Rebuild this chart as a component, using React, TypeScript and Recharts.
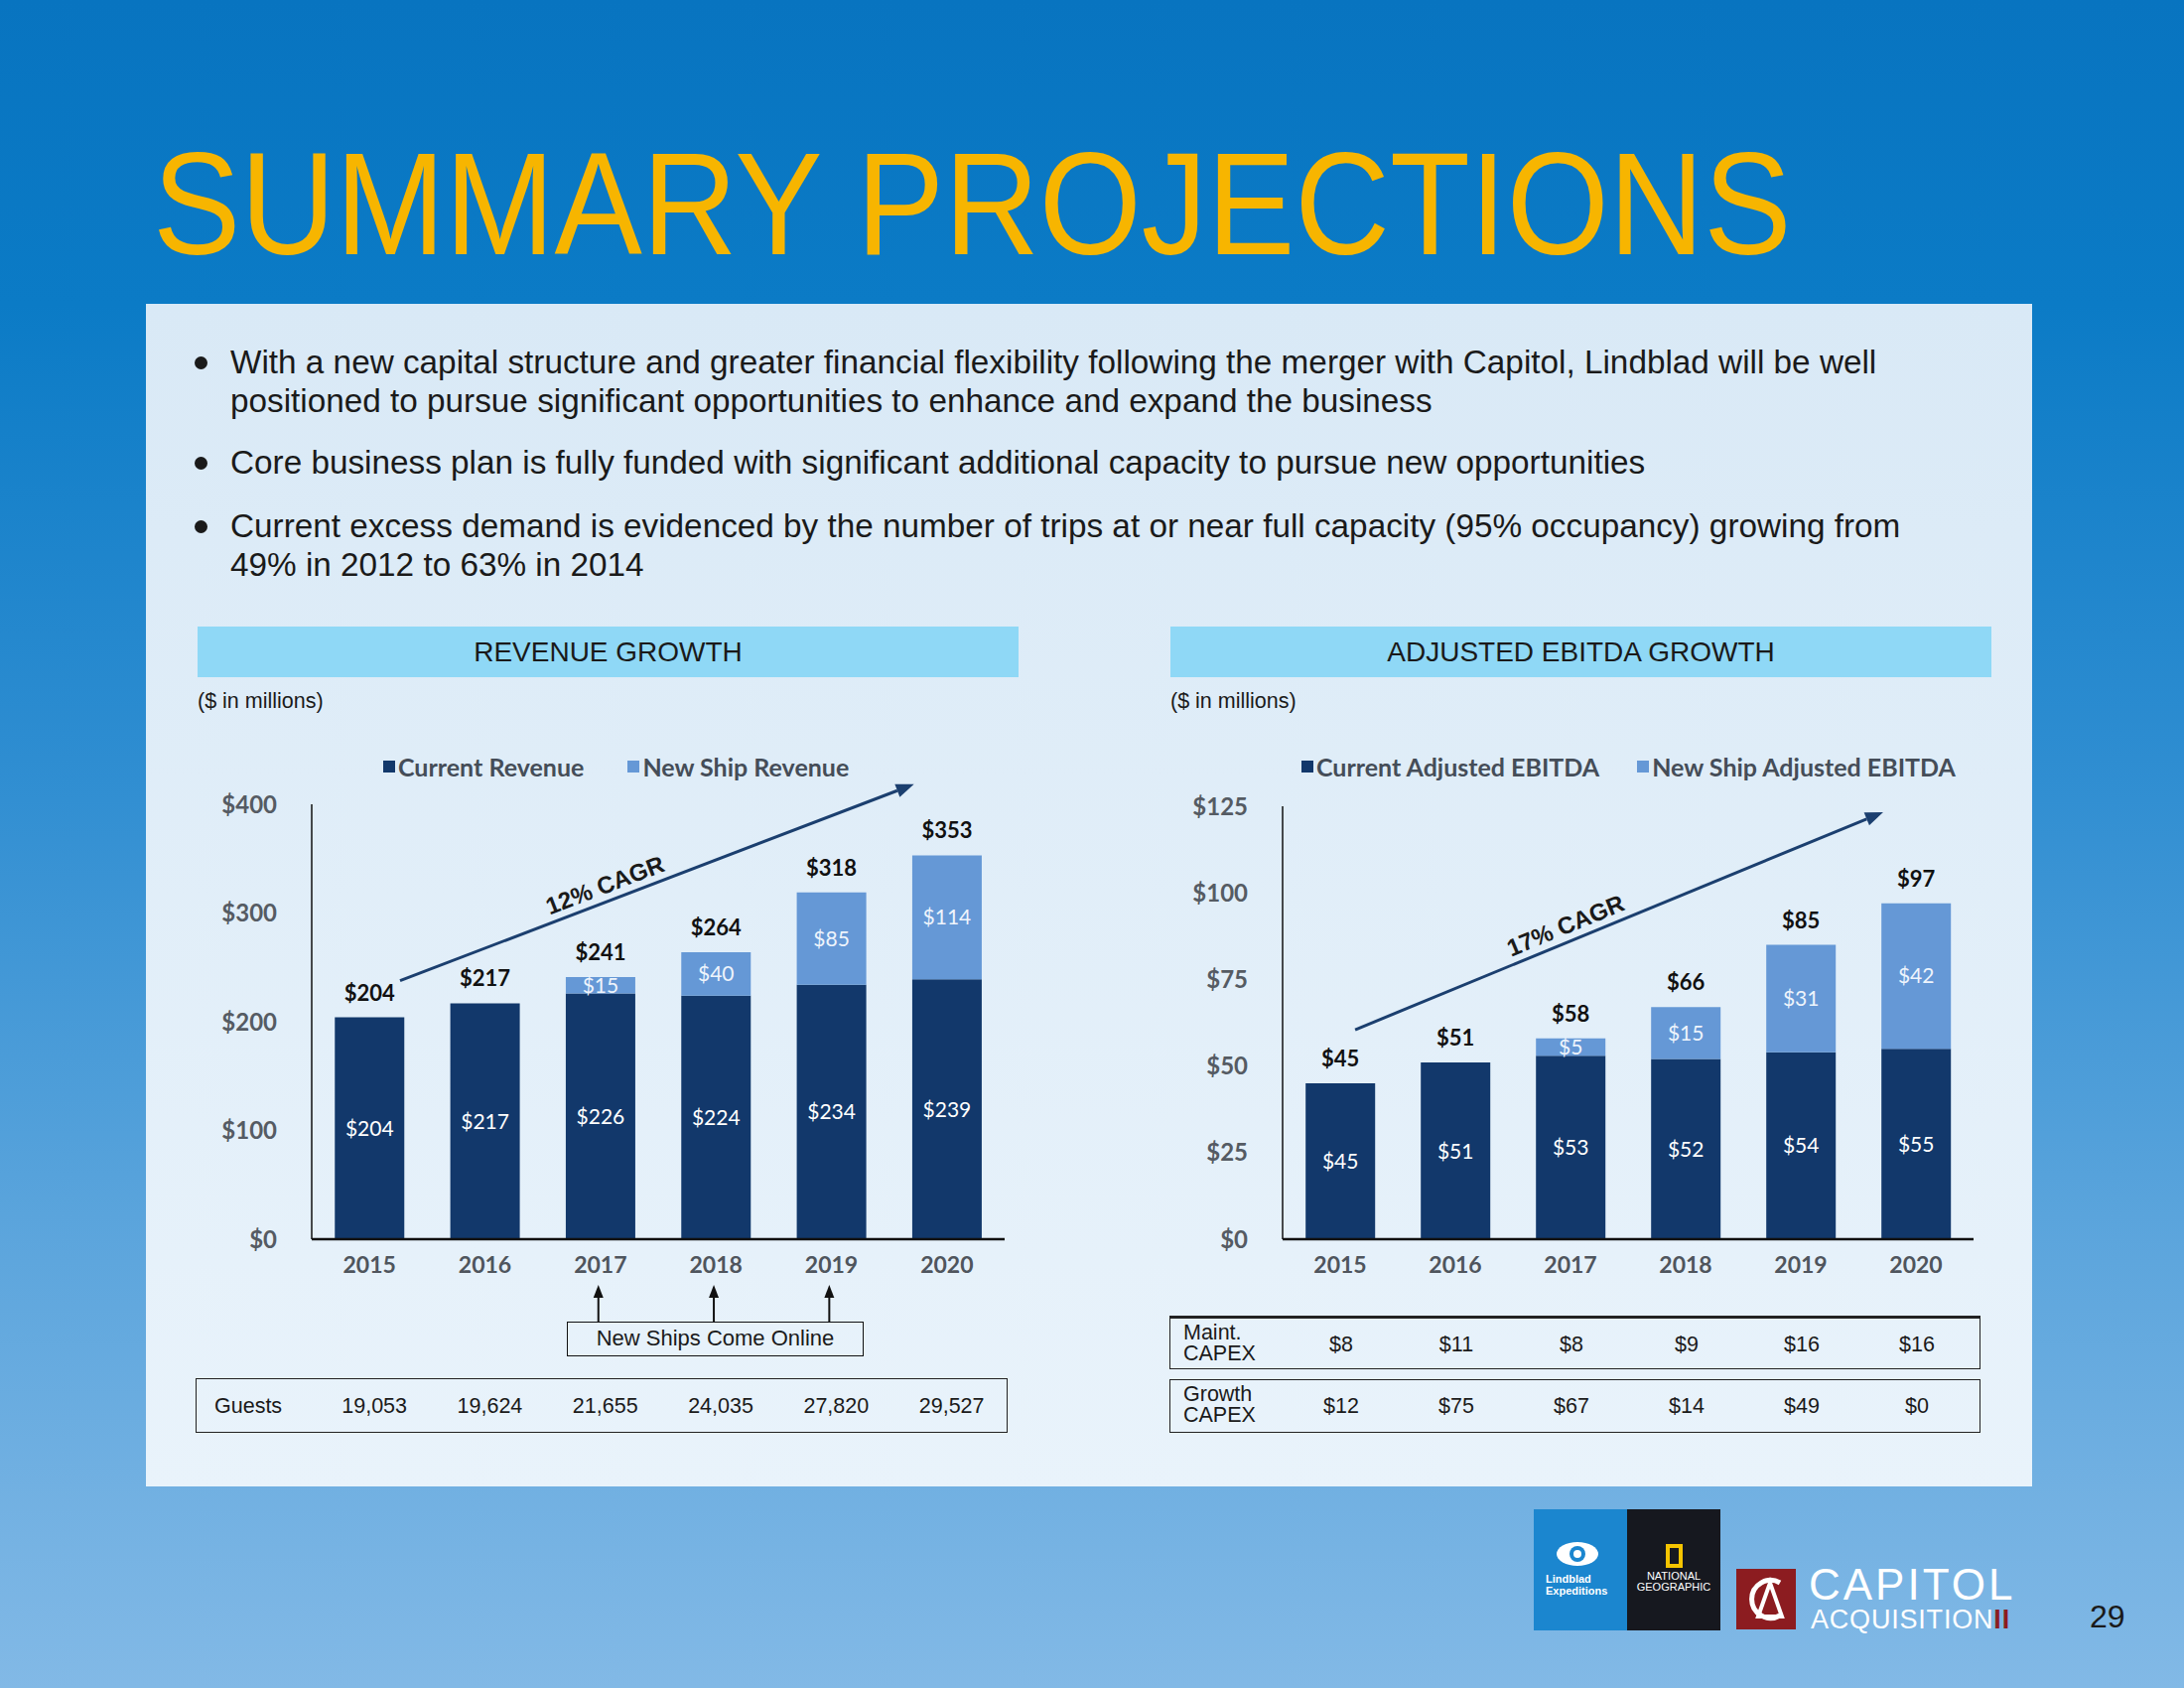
import React from "react";
import {
  BarChart,
  Bar,
  XAxis,
  YAxis,
  Legend,
  LabelList,
  ReferenceLine,
} from "recharts";

const years = ["2015", "2016", "2017", "2018", "2019", "2020"];

const currentRevenue = [204, 217, 226, 224, 234, 239];
const newShipRevenue = [0, 0, 15, 40, 85, 114];
const totalRevenue = [204, 217, 241, 264, 318, 353];
const revenueTicks = [0, 100, 200, 300, 400];

const currentEbitda = [45, 51, 53, 52, 54, 55];
const newShipEbitda = [0, 0, 5, 15, 31, 42];
const totalEbitda = [45, 51, 58, 66, 85, 97];
const ebitdaTicks = [0, 25, 50, 75, 100, 125];

const guests = ["19,053", "19,624", "21,655", "24,035", "27,820", "29,527"];
const maintCapex = ["$8", "$11", "$8", "$9", "$16", "$16"];
const growthCapex = ["$12", "$75", "$67", "$14", "$49", "$0"];

// CAGR trend lines: value at the 2015 and 2020 columns, drawn between fractions [from, to]
const revenueCagr = [
  { x: "2015", y: 227 },
  { x: "2020", y: 430 },
];
const revenueCagrSpan = [0.053, 0.943];
const ebitdaCagr = [
  { x: "2015", y: 58.7 },
  { x: "2020", y: 127.2 },
];
const ebitdaCagrSpan = [0.026, 0.943];

const bullets = [
  "With a new capital structure and greater financial flexibility following the merger with Capitol, Lindblad will be well positioned to pursue significant opportunities to enhance and expand the business",
  "Core business plan is fully funded with significant additional capacity to pursue new opportunities",
  "Current excess demand is evidenced by the number of trips at or near full capacity (95% occupancy) growing from 49% in 2012 to 63% in 2014",
];

const DARK = "#12386b";
const LIGHT = "#6598d6";
const SANS = "'Liberation Sans', Arial, Helvetica, sans-serif";
const LFONT = "Lato, 'Open Sans', sans-serif";

const revenueData = years.map((year, i) => ({
  year,
  current: currentRevenue[i],
  newShip: newShipRevenue[i],
  total: totalRevenue[i],
}));

const ebitdaData = years.map((year, i) => ({
  year,
  current: currentEbitda[i],
  newShip: newShipEbitda[i],
  total: totalEbitda[i],
}));

const dollar = (v: any) => `$${v}`;
const dollarOrBlank = (v: any) => (v ? `$${v}` : "");

// total above the full stack, placed from the current bar's own geometry
const totalLabel = (current: number[], newShip: number[], totals: number[]) => (props: any) => {
  const vb = props.viewBox || props;
  const { x, y, width, height } = vb;
  let i = props.index;
  if (i === undefined || i === null) i = current.indexOf(Number(props.value));
  if (i < 0) return null;
  const perUnit = Math.abs(height) / current[i];
  const top = y - newShip[i] * perUnit;
  return (
    <text
      x={x + width / 2}
      y={top - 17}
      textAnchor="middle"
      fill="#111"
      fontSize={22}
      fontWeight={700}
      fontFamily={LFONT}
    >
      {`$${totals[i]}`}
    </text>
  );
};

const cagrShape = (text: string, span: number[]) => (props: any) => {
  const { x1: ax, y1: ay, x2: bx0, y2: by0 } = props;
  const x1 = ax + (bx0 - ax) * span[0];
  const y1 = ay + (by0 - ay) * span[0];
  const x2 = ax + (bx0 - ax) * span[1];
  const y2 = ay + (by0 - ay) * span[1];
  const dx = x2 - x1;
  const dy = y2 - y1;
  const len = Math.sqrt(dx * dx + dy * dy);
  const ux = dx / len;
  const uy = dy / len;
  const head = 18;
  const half = 7;
  const hx = x2 - ux * head;
  const hy = y2 - uy * head;
  const pts = `${x2},${y2} ${hx - uy * half},${hy + ux * half} ${hx + uy * half},${hy - ux * half}`;
  const angle = (Math.atan2(dy, dx) * 180) / Math.PI;
  const t = 0.41;
  const tx = x1 + dx * t + uy * 8;
  const ty = y1 + dy * t - ux * 8;
  return (
    <g>
      <line x1={x1} y1={y1} x2={hx} y2={hy} stroke="#1b3f6f" strokeWidth={3} />
      <polygon points={pts} fill="#1b3f6f" />
      <text
        x={tx}
        y={ty}
        transform={`rotate(${angle} ${tx} ${ty})`}
        textAnchor="middle"
        fontFamily={SANS}
        fontWeight={700}
        fontSize={24}
        fill="#1a1a1a"
      >
        {text}
      </text>
    </g>
  );
};

const legendContent = (pad: number, gap: number) => (props: any) => (
  <div
    style={{
      display: "flex",
      paddingLeft: pad,
      fontFamily: LFONT,
      fontWeight: 700,
      fontSize: 25,
      lineHeight: "24px",
      color: "#454d58",
    }}
  >
    {(props.payload || []).map((p: any, i: number) => (
      <div key={i} style={{ display: "flex", alignItems: "center", marginRight: gap }}>
        <span
          style={{
            display: "inline-block",
            width: 12,
            height: 12,
            background: p.color,
            marginRight: 3,
          }}
        />
        {p.value}
      </div>
    ))}
  </div>
);

type ChartProps = {
  data: any[];
  current: number[];
  newShip: number[];
  totals: number[];
  ticks: number[];
  cagr: { x: string; y: number }[];
  cagrSpan: number[];
  cagrText: string;
  names: string[];
  yAxisWidth: number;
  marginTop: number;
  marginRight: number;
  legendPad: number;
  legendGap: number;
};

const GrowthChart = ({
  data,
  current,
  newShip,
  totals,
  ticks,
  cagr,
  cagrSpan,
  cagrText,
  names,
  yAxisWidth,
  marginTop,
  marginRight,
  legendPad,
  legendGap,
}: ChartProps) => {
  return (
    <BarChart
      width={840}
      height={560}
      data={data}
      margin={{ top: marginTop, right: marginRight, bottom: 32, left: 0 }}
      barCategoryGap="20%"
    >
      <XAxis
        dataKey="year"
        tickLine={false}
        tickSize={0}
        tickMargin={18}
        height={40}
        axisLine={{ stroke: "#111", strokeWidth: 2.5 }}
        tick={{ fill: "#4f555d", fontSize: 23, fontWeight: 700, fontFamily: LFONT }}
      />
      <YAxis
        width={yAxisWidth}
        domain={[0, ticks[ticks.length - 1]]}
        ticks={ticks}
        interval={0}
        tickLine={false}
        tickSize={0}
        tickMargin={35}
        tickFormatter={dollar}
        axisLine={{ stroke: "#111", strokeWidth: 1.5 }}
        tick={{ fill: "#555b63", fontSize: 24, fontWeight: 700, fontFamily: LFONT }}
      />
      <Legend
        verticalAlign="middle"
        wrapperStyle={{ top: 0, left: 0, width: 840, height: 24 }}
        content={legendContent(legendPad, legendGap)}
      />
      <Bar dataKey="current" name={names[0]} stackId="a" fill={DARK} isAnimationActive={false}>
        <LabelList
          dataKey="current"
          position="center"
          formatter={dollarOrBlank}
          fill="#ffffff"
          fontSize={21}
          fontFamily={LFONT}
        />
        <LabelList dataKey="current" content={totalLabel(current, newShip, totals)} />
      </Bar>
      <Bar dataKey="newShip" name={names[1]} stackId="a" fill={LIGHT} isAnimationActive={false}>
        <LabelList
          dataKey="newShip"
          position="center"
          formatter={dollarOrBlank}
          fill="#eef4fc"
          fontSize={21}
          fontFamily={LFONT}
        />
      </Bar>
      <ReferenceLine segment={cagr} ifOverflow="visible" shape={cagrShape(cagrText, cagrSpan)} />
    </BarChart>
  );
};

const LEFT_PLOT = 314;
const RIGHT_PLOT = 1292;
const CAT = 116.3;

const abs = (left: number, top: number, extra: React.CSSProperties = {}): React.CSSProperties => ({
  position: "absolute",
  left,
  top,
  ...extra,
});

const App = () => {
  const leftCenters = years.map((_, i) => LEFT_PLOT + (i + 0.5) * CAT);
  const rightCenters = years.map((_, i) => RIGHT_PLOT + (i + 0.5) * 116);

  return (
    <div
      style={{
        position: "absolute",
        left: 0,
        top: 0,
        width: 2200,
        height: 1700,
        overflow: "hidden",
        fontFamily: SANS,
        background:
          "linear-gradient(180deg, #0874c0 0%, #0b7bc6 18%, #2e8dd1 45%, #5aa4dc 72%, #82b9e6 100%)",
      }}
    >
      <div
        style={abs(154, 133, {
          fontSize: 146,
          lineHeight: "146px",
          color: "#f7b500",
          whiteSpace: "nowrap",
          transform: "scaleX(0.907)",
          transformOrigin: "left top",
        })}
      >
        SUMMARY PROJECTIONS
      </div>

      <div
        style={abs(147, 306, {
          width: 1900,
          height: 1191,
          background: "linear-gradient(180deg, #d9e9f6 0%, #e9f3fb 100%)",
        })}
      />

      {bullets.map((b, i) => (
        <div key={i} style={abs(196, [345, 446, 510][i], { width: 1800, display: "flex" })}>
          <div
            style={{
              width: 13,
              height: 13,
              borderRadius: 7,
              background: "#1a1a1a",
              marginTop: 14,
              marginRight: 23,
              flex: "none",
            }}
          />
          <div style={{ fontSize: 33.3, lineHeight: "39px", color: "#1a1a1a", width: 1730 }}>{b}</div>
        </div>
      ))}

      {[
        { left: 199, text: "REVENUE GROWTH" },
        { left: 1179, text: "ADJUSTED EBITDA GROWTH" },
      ].map((h) => (
        <React.Fragment key={h.text}>
          <div
            style={abs(h.left, 631, {
              width: 827,
              height: 51,
              background: "#8fd8f6",
              textAlign: "center",
              fontSize: 28,
              lineHeight: "51px",
              color: "#1a1a1a",
            })}
          >
            {h.text}
          </div>
          <div style={abs(h.left, 694, { fontSize: 21.5, lineHeight: "24px", color: "#1a1a1a" })}>
            ($ in millions)
          </div>
        </React.Fragment>
      ))}

      <div style={abs(199, 760)}>
        <GrowthChart
          data={revenueData}
          current={currentRevenue}
          newShip={newShipRevenue}
          totals={totalRevenue}
          ticks={revenueTicks}
          cagr={revenueCagr}
          cagrSpan={revenueCagrSpan}
          cagrText="12% CAGR"
          names={["Current Revenue", "New Ship Revenue"]}
          yAxisWidth={115}
          marginTop={50}
          marginRight={27}
          legendPad={187}
          legendGap={44}
        />
      </div>

      <div style={abs(1179, 760)}>
        <GrowthChart
          data={ebitdaData}
          current={currentEbitda}
          newShip={newShipEbitda}
          totals={totalEbitda}
          ticks={ebitdaTicks}
          cagr={ebitdaCagr}
          cagrSpan={ebitdaCagrSpan}
          cagrText="17% CAGR"
          names={["Current Adjusted EBITDA", "New Ship Adjusted EBITDA"]}
          yAxisWidth={113}
          marginTop={52}
          marginRight={31}
          legendPad={132}
          legendGap={38}
        />
      </div>

      {/* new ships arrows */}
      <svg style={abs(0, 0, { width: 2200, height: 1700, pointerEvents: "none" })}>
        {[2, 3, 4].map((i) => {
          const x = leftCenters[i] - 2;
          return (
            <g key={i}>
              <line x1={x} y1={1331} x2={x} y2={1304} stroke="#111" strokeWidth={2} />
              <polygon points={`${x},1294 ${x - 5},1307 ${x + 5},1307`} fill="#111" />
            </g>
          );
        })}
      </svg>
      <div
        style={abs(571, 1331, {
          width: 299,
          height: 35,
          border: "1.5px solid #111",
          boxSizing: "border-box",
          textAlign: "center",
          fontSize: 22,
          lineHeight: "32px",
          color: "#1a1a1a",
        })}
      >
        New Ships Come Online
      </div>

      <div
        style={abs(197, 1388, {
          width: 818,
          height: 55,
          border: "1.5px solid #222",
          boxSizing: "border-box",
          fontSize: 21.5,
          color: "#1a1a1a",
        })}
      >
        <div style={abs(18, 15)}>Guests</div>
        {guests.map((g, i) => (
          <div
            key={i}
            style={abs(leftCenters[i] + 4 - 197 - 50, 15, { width: 100, textAlign: "center" })}
          >
            {g}
          </div>
        ))}
      </div>

      {[
        { top: 1325, label: ["Maint.", "CAPEX"], vals: maintCapex, bt: 3 },
        { top: 1389, label: ["Growth", "CAPEX"], vals: growthCapex, bt: 1.5 },
      ].map((row) => (
        <div
          key={row.label[0]}
          style={abs(1178, row.top, {
            width: 817,
            height: 54,
            border: "1.5px solid #222",
            borderTopWidth: row.bt,
            boxSizing: "border-box",
            fontSize: 21.5,
            color: "#1a1a1a",
          })}
        >
          <div style={abs(13, 4, { lineHeight: "21px" })}>
            {row.label[0]}
            <br />
            {row.label[1]}
          </div>
          {row.vals.map((v, i) => (
            <div
              key={i}
              style={abs(rightCenters[i] - 1178 - 50, 14, { width: 100, textAlign: "center" })}
            >
              {v}
            </div>
          ))}
        </div>
      ))}

      {/* logos */}
      <div style={abs(1545, 1520, { width: 94, height: 122, background: "#1b86cf" })}>
        <svg width={94} height={122} style={{ position: "absolute", left: 0, top: 0 }}>
          <ellipse cx={44} cy={45} rx={21} ry={12} fill="#fff" />
          <circle cx={44} cy={45} r={8} fill="#1b86cf" />
          <circle cx={44} cy={45} r={4} fill="#fff" />
          <text x={12} y={74} fill="#fff" fontSize={11} fontWeight={700} fontFamily={SANS}>
            Lindblad
          </text>
          <text x={12} y={86} fill="#fff" fontSize={11} fontWeight={700} fontFamily={SANS}>
            Expeditions
          </text>
        </svg>
      </div>
      <div style={abs(1639, 1520, { width: 94, height: 122, background: "#16181f" })}>
        <svg width={94} height={122} style={{ position: "absolute", left: 0, top: 0 }}>
          <rect x={41} y={37} width={13} height={20} fill="none" stroke="#f5c400" strokeWidth={4} />
          <text x={47} y={71} fill="#fff" fontSize={11} textAnchor="middle" fontFamily={SANS}>
            NATIONAL
          </text>
          <text x={47} y={82} fill="#fff" fontSize={11} textAnchor="middle" fontFamily={SANS}>
            GEOGRAPHIC
          </text>
        </svg>
      </div>
      <div style={abs(1749, 1580, { width: 60, height: 61, background: "#8c1c20" })}>
        <svg width={60} height={61} style={{ position: "absolute", left: 0, top: 0 }}>
          <path d="M 44 14 A 19 19 0 1 0 44 47" fill="none" stroke="#fff" strokeWidth={5} />
          <path d="M 22 48 L 34 14 L 46 48 Z" fill="none" stroke="#fff" strokeWidth={4} />
        </svg>
      </div>
      <div
        style={abs(1822, 1576, {
          fontSize: 44,
          lineHeight: "40px",
          letterSpacing: 3,
          color: "#fff",
        })}
      >
        CAPITOL
      </div>
      <div
        style={abs(1824, 1619, {
          fontSize: 27,
          lineHeight: "24px",
          letterSpacing: 0.8,
          color: "#fff",
        })}
      >
        ACQUISITION<span style={{ color: "#8c1c20", fontWeight: 700 }}>II</span>
      </div>
      <div style={abs(2105, 1611, { fontSize: 32, lineHeight: "34px", color: "#1a1a1a" })}>29</div>
    </div>
  );
};

export default App;
